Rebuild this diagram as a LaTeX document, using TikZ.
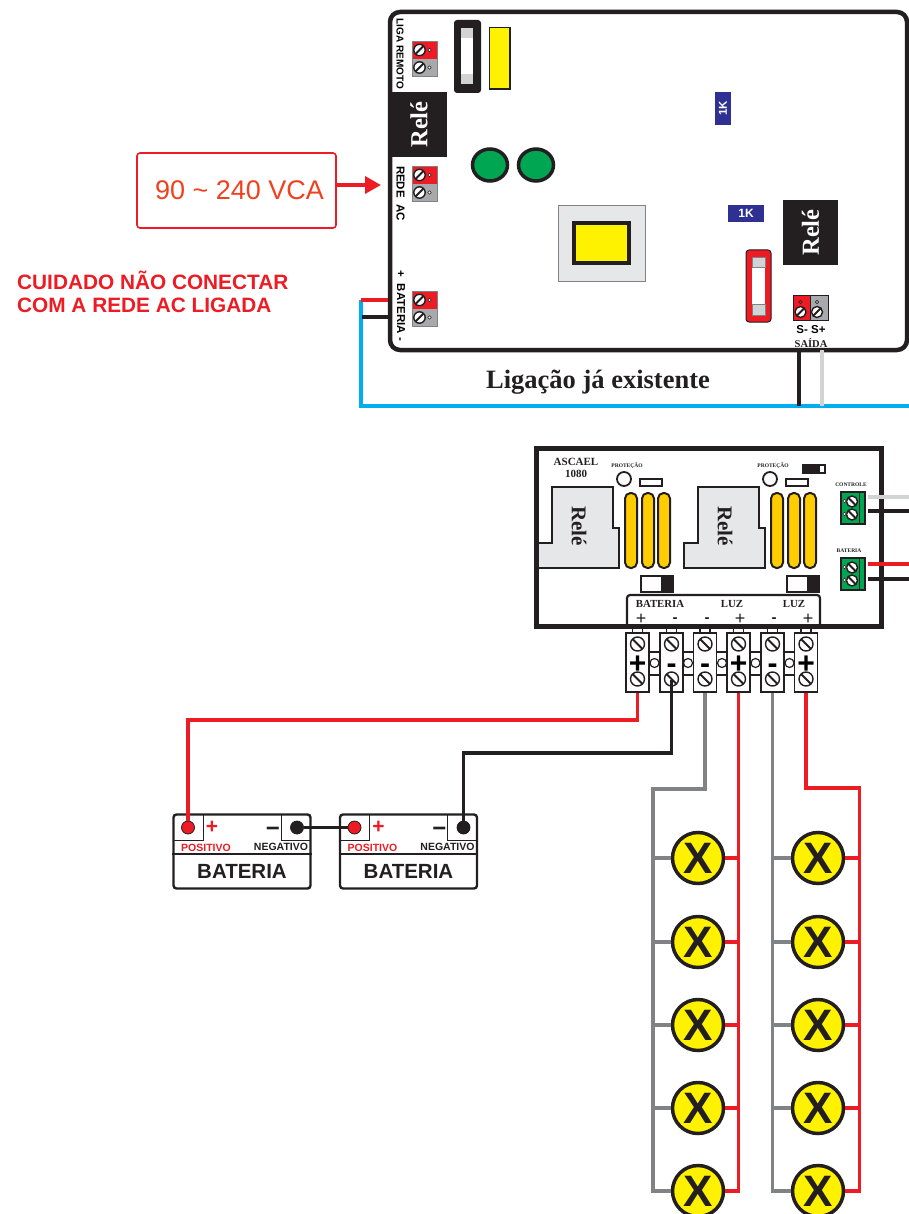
\documentclass[tikz,border=0pt]{standalone}
\usepackage{fontspec}
\setmainfont{Liberation Serif}
\setsansfont{Liberation Sans}
\usetikzlibrary{arrows.meta}
\definecolor{verm}{HTML}{ED1C24}
\definecolor{escuro}{HTML}{231F20}
\definecolor{cinza}{HTML}{808285}
\definecolor{cinzaborne}{HTML}{A7A9AC}
\definecolor{cinzaclaro}{HTML}{D1D3D4}
\definecolor{cinzarele}{HTML}{E6E7E8}
\definecolor{azul}{HTML}{00AEEF}
\definecolor{verde}{HTML}{00A651}
\definecolor{amarelo}{HTML}{FFF200}
\definecolor{ambar}{HTML}{FFCC00}
\definecolor{marinho}{HTML}{2E3192}
\newcommand{\fsz}[1]{\fontsize{#1}{#1}\selectfont}
\tikzset{
  fio/.style={line width=3.2pt},
  placa/.style={draw=escuro, line width=4.5pt, rounded corners=10pt, fill=white, inner sep=0},
  rele/.style={fill=escuro, text=white, inner sep=0, font=\bfseries\fsz{24.5}},
  borne/.style={draw=escuro, fill=white, line width=1.8pt, inner sep=0, minimum width=23, minimum height=59, font=\sffamily\bfseries\fsz{30}},
  lampada/.style={circle, draw=escuro, line width=3.5pt, fill=amarelo, text=escuro, inner sep=0, minimum size=51, font=\sffamily\bfseries\fsz{44}},
  bateria/.style={draw=escuro, line width=2.4pt, rounded corners=3pt, fill=white, inner sep=0, minimum width=137, minimum height=74},
  pino/.style={circle, draw=escuro, line width=.8pt, inner sep=0, minimum size=13},
  verdebox/.style={draw=escuro, line width=1.6pt, fill=verde, inner sep=0, minimum width=24, minimum height=32},
}
% parafuso com fenda: x, y, raio, sentido da fenda
\newcommand{\fenda}[4]{
  \draw[escuro, line width=1.4pt, fill=white] (#1,#2) circle (#3);
  \draw[escuro, line width=1.8pt] (#1,#2) ++(#4*#3*.72,-#3*.72) -- ++(-#4*#3*1.44,#3*1.44);
}
% borne vermelho e cinza da fonte
\newcommand{\bornerede}[2]{
  \fill[verm] (#1,#2) rectangle ++(25,18);
  \fill[cinzaborne] (#1,#2+18) rectangle ++(25,17);
  \draw[cinza, line width=.8pt] (#1,#2) rectangle ++(25,35);
  \fenda{#1+7.5}{#2+9}{5.7}{1}
  \fenda{#1+7.5}{#2+26.5}{5.7}{1}
  \draw[escuro, line width=.5pt, fill=white] (#1+17.5,#2+9) circle (1.7);
  \draw[escuro, line width=.5pt, fill=white] (#1+17.5,#2+26.5) circle (1.7);
}
\begin{document}
\begin{tikzpicture}[x=1pt,y=-1pt]
  \useasboundingbox (0,0) rectangle (909,1214);

  % fonte
  \coordinate (cantoazul) at (361,300);
  \coordinate (fimazul) at (909,406);
  \draw[azul, line width=4.5pt] (cantoazul) |- (fimazul);
  \node[placa, minimum width=517, minimum height=338] (fonte) at (648.5,181) {};
  \draw[verm, fio] (cantoazul) -- (cantoazul -| fonte.west);
  \coordinate (fiopreto) at (362,317);
  \draw[escuro, fio] (fiopreto) -- (fiopreto -| fonte.west);
  \coordinate (saidaneg) at (799,350);
  \coordinate (saidapos) at (822,350);
  \draw[escuro, fio] (saidaneg) -- (saidaneg |- fimazul);
  \draw[cinzaclaro, fio] (saidapos) -- (saidapos |- fimazul);

  \bornerede{412}{41}
  \bornerede{412}{166}
  \bornerede{412}{291}
  \node[rotate=-90, font=\sffamily\bfseries\fsz{10}] (ligaremoto) at (400,54) {LIGA REMOTO};
  \node[rotate=-90, font=\sffamily\bfseries\fsz{11.5}] (redeac) at (400.5,193.5) {REDE\ \ AC};
  \node[rotate=-90, font=\sffamily\bfseries\fsz{11.5}] (batfonte) at (401,306) {+\ \ BATERIA -};

  \node[rele, minimum width=56, minimum height=65] (rele1) at (419,124.5) {\rotatebox{90}{Relé}};
  \node[rele, minimum width=55, minimum height=65] (rele2) at (810.5,232.5) {\rotatebox{90}{Relé}};

  % fusiveis
  \fill[escuro, rounded corners=3pt] (454,20) rectangle (481,93);
  \fill[white] (461,28) rectangle (473,84);
  \fill[cinzaclaro] (461,28) rectangle (473,38);
  \fill[cinzaclaro] (461,74) rectangle (473,84);
  \draw[escuro, line width=1.5pt, fill=amarelo] (489.5,27.5) rectangle (510,89);
  \draw[escuro, line width=1pt, fill=verm, rounded corners=3pt] (746,250) rectangle (771,322);
  \fill[white] (752,257) rectangle (765,315);
  \draw[cinza, line width=.5pt, fill=cinzaclaro] (752,257) rectangle (765,267);
  \draw[cinza, line width=.5pt, fill=cinzaclaro] (752,304) rectangle (765,315);

  \foreach \px in {490,536}
    \draw[escuro, line width=3.5pt, fill=verde] (\px,165) ellipse (17.5 and 16);

  \draw[cinza, line width=.8pt, fill=cinzarele] (558,205) rectangle (645,281);
  \draw[escuro, line width=3.5pt, fill=amarelo] (574,223) rectangle (629,263);

  \node[fill=marinho, text=white, inner sep=0, minimum width=33, minimum height=16, rotate=90, font=\sffamily\bfseries\fsz{11.5}] (r1k) at (723,108.5) {1K};
  \node[fill=marinho, text=white, inner sep=0, minimum width=36, minimum height=17, font=\sffamily\bfseries\fsz{12}] (r2k) at (746,213.5) {1K};

  % saida
  \fill[verm] (793,295) rectangle (810,320);
  \fill[cinzaborne] (810,295) rectangle (828,320);
  \draw[escuro, line width=.8pt] (793,295) rectangle (828,320);
  \draw[escuro, line width=.8pt] (810,295) -- (810,320);
  \fenda{800.5}{312}{5.5}{1}
  \fenda{817}{312}{5.5}{1}
  \draw[escuro, line width=.5pt] (800.5,302) circle (1.7);
  \draw[escuro, line width=.5pt] (817,302) circle (1.7);
  \node[font=\sffamily\bfseries\fsz{11.5}] (ss) at (811,329.5) {S-\ S+};
  \node[font=\bfseries\fsz{10.5}, text=escuro] (saida) at (811,343) {SAÍDA};

  \node[font=\bfseries\fsz{26.5}, text=escuro] (existente) at (598,382.5) {Ligação já existente};

  % rede
  \node[draw=verm, line width=1.6pt, rounded corners=3pt, minimum width=199, minimum height=75, inner sep=0, text={rgb,255:red,240;green,65;blue,30}, font=\sffamily\fsz{27}] (rede) at (236.5,190.5) {\hspace{6pt}90 \textasciitilde\ 240 VCA};
  \coordinate (entrada) at (381,185);
  \draw[verm, line width=3.5pt, -{Triangle[length=16pt,width=17pt]}] (rede.east |- entrada) -- (entrada);

  \node[anchor=west, align=left, inner sep=0, text=verm, font=\sffamily\bfseries\fsz{20.8}] (cuidado) at (17,291.5) {CUIDADO NÃO CONECTAR\\[2pt]COM A REDE AC LIGADA};

  % ascael
  \node[draw=escuro, line width=5pt, fill=white, inner sep=0, minimum width=345, minimum height=178] (ascael) at (709,537.5) {};
  \node[font=\bfseries\fsz{11}, align=center, text=escuro] (modelo) at (576,468) {ASCAEL\\[1pt]1080};
  \foreach \px in {0,146}{
    \draw[escuro, line width=1.5pt, fill=cinzarele] (552+\px,487) -- (613+\px,487) -- (613+\px,528) -- (619+\px,528) -- (619+\px,568) -- (538+\px,568) -- (538+\px,543) -- (552+\px,543) -- cycle;
    \node[rotate=-90, font=\bfseries\fsz{21}, text=escuro] at (579+\px,526) {Relé};
    \draw[escuro, line width=1.8pt, fill=white] (624+\px,479) circle (7);
    \draw[escuro, line width=1.8pt, fill=white] (640+\px,479) rectangle (662+\px,486);
    \node[font=\bfseries\fsz{5.5}, text=escuro] at (627+\px,466) {PROTEÇÃO};
    \foreach \cx in {631,648,664}
      \draw[escuro, line width=2pt, fill=ambar, rounded corners=5.5pt] (\cx+\px-6,493) rectangle (\cx+\px+6,568);
    \draw[escuro, line width=2pt, fill=white] (641+\px,576) rectangle (673+\px,592);
    \fill[escuro] (661+\px,576) rectangle (673+\px,592);
  }
  \fill[escuro] (802,464) rectangle (826,474);
  \fill[white] (820,466) rectangle (824,472);

  % painel e bornes
  \draw[escuro, line width=2.2pt, rounded corners=3pt] (627,627) -- (627,595) -- (820,595) -- (820,627);
  \node[font=\bfseries\fsz{10.8}, text=escuro] (txtbat) at (660,604) {BATERIA};
  \node[font=\bfseries\fsz{10.8}, text=escuro] (txtluz1) at (732,604) {LUZ};
  \node[font=\bfseries\fsz{10.8}, text=escuro] (txtluz2) at (794,604) {LUZ};
  \foreach \px in {641,740,808}
    \node[font=\sffamily\fsz{18}, text=escuro] at (\px,619) {+};
  \foreach \px in {675,707,774}
    \node[font=\sffamily\bfseries\fsz{15}, text=escuro] at (\px,620) {-};

  \foreach \i/\px in {1/637.5,2/671.5,3/705,4/738.5,5/772.5,6/806}
    \draw[escuro, line width=1.3pt, fill=white] (\px-5,628) rectangle (\px+5,634);
  \foreach \px in {654.5,688,722,755.5,789.5}{
    \draw[escuro, line width=1.5pt, fill=white] (\px-6,652) rectangle (\px+6,675);
    \draw[escuro, line width=1.2pt, fill=white] (\px,663) circle (4.5);
  }
  \foreach \i/\px/\sn in {1/637.5/+,2/671.5/-,3/705/-,4/738.5/+,5/772.5/-,6/806/+}{
    \node[borne] (term\i) at (\px,662.5) {\raisebox{-11pt}[0pt][0pt]{\sn}};
    \fenda{\px}{644}{7}{-1}
    \fenda{\px}{679}{7}{-1}
  }

  % bornes verdes
  \node[verdebox] (controle) at (853,508) {};
  \node[verdebox] (batverde) at (853,574) {};
  \foreach \py in {508,574}{
    \draw[escuro, line width=1pt] (859.5,\py-16) -- (859.5,\py+16);
    \fenda{852}{\py-6.5}{5.5}{-1}
    \fenda{852}{\py+6.5}{5.5}{-1}
    \draw[escuro, line width=.5pt, fill=white] (844.5,\py-7) circle (1.8);
    \draw[escuro, line width=.5pt, fill=white] (844.5,\py+6) circle (1.8);
  }
  \node[font=\bfseries\fsz{5.5}, text=escuro] (txtctrl) at (851,485) {CONTROLE};
  \node[font=\bfseries\fsz{5.5}, text=escuro] (txtbatv) at (849,551) {BATERIA};
  \draw[cinzaclaro, fio] ([xshift=2,yshift=11]controle.east) -- ++(43,0);
  \draw[escuro, fio] ([xshift=2,yshift=-3]controle.east) -- ++(43,0);
  \draw[verm, fio] ([xshift=2,yshift=10]batverde.east) -- ++(43,0);
  \draw[escuro, fio] ([xshift=2,yshift=-5]batverde.east) -- ++(43,0);

  % baterias
  \foreach \b/\px in {1/242,2/408.5}{
    \node[bateria] (bat\b) at (\px,851.5) {};
    \draw[escuro, line width=1.8pt] (bat\b.west |- 0,854) -- (bat\b.east |- 0,854);
    \draw[escuro, line width=.6pt] (\px-69,840) -- (\px-39,840) -- (\px-39,815);
    \draw[escuro, line width=.6pt] (\px+69,840) -- (\px+39,840) -- (\px+39,815);
    \node[text=verm, font=\sffamily\bfseries\fsz{21}] at (\px-30,827) {+};
    \node[text=escuro, font=\sffamily\bfseries\fsz{24}] at (\px+31,832) {−};
    \node[text=verm, font=\sffamily\bfseries\fsz{10.5}] at (\px-36,847.5) {POSITIVO};
    \node[text=escuro, font=\sffamily\bfseries\fsz{10.5}] at (\px+39,847) {NEGATIVO};
    \node[text=escuro, font=\sffamily\bfseries\fsz{20.5}] at (\px,871) {BATERIA};
  }
  \node[pino, fill=verm] (pos1) at (188,827.5) {};
  \node[pino, fill=escuro] (neg1) at (297,827.5) {};
  \node[pino, fill=verm] (pos2) at (354.5,827.5) {};
  \node[pino, fill=escuro] (neg2) at (463.5,827.5) {};
  \draw[verm, fio] (term1.south) -- ++(0,27) -| (pos1);
  \draw[escuro, fio] (671.5,680) -- ++(0,73) -| (neg2);
  \draw[escuro, fio] (neg1) -- (pos2);

  % lampadas
  \foreach \c/\px in {1/698,2/818}
    \foreach \l/\py in {1/858,2/942,3/1025,4/1108,5/1191}
      \node[lampada] (lamp\c\l) at (\px,\py) {X};
  \coordinate (barra1) at (653,789);
  \coordinate (barra2) at (859.5,788);
  \draw[cinza, fio] (term3.south) |- (barra1) |- (lamp15.west);
  \draw[verm, fio] (term4.south) |- (lamp15.east);
  \draw[cinza, fio] (term5.south) |- (lamp25.west);
  \draw[verm, fio] (term6.south) |- (barra2) |- (lamp25.east);
  \foreach \l in {1,...,4}{
    \draw[cinza, fio] (barra1 |- lamp1\l.west) -- (lamp1\l.west);
    \draw[verm, fio] (lamp1\l.east) -- (term4 |- lamp1\l.east);
    \draw[cinza, fio] (term5 |- lamp2\l.west) -- (lamp2\l.west);
    \draw[verm, fio] (lamp2\l.east) -- (barra2 |- lamp2\l.east);
  }
\end{tikzpicture}
\end{document}
